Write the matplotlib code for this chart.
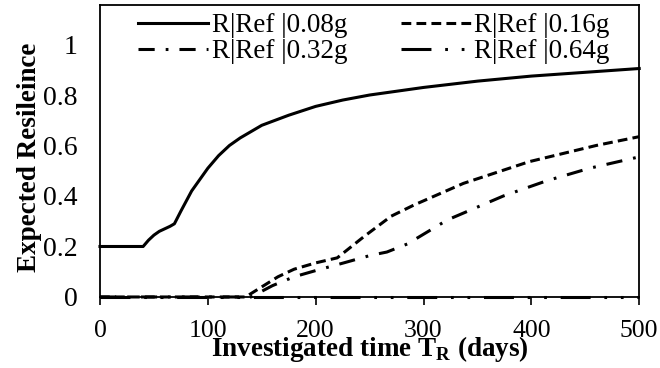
import matplotlib
matplotlib.use("Agg")
import matplotlib.pyplot as plt

plt.rcParams['font.family'] = ['Liberation Serif', 'DejaVu Serif']
plt.rcParams['mathtext.fontset'] = 'custom'
plt.rcParams['mathtext.rm'] = 'Liberation Serif'
plt.rcParams['mathtext.bf'] = 'Liberation Serif:bold'

labels = ["R|Ref |0.08g", "R|Ref |0.16g", "R|Ref |0.32g", "R|Ref |0.64g"]

t_008 = [0, 40, 45, 50, 55, 60, 65, 69, 75, 80, 85, 90, 100, 110, 120, 130, 150, 175, 200, 225, 250, 300, 350, 400, 450, 500]
r_008 = [0.2, 0.2, 0.225, 0.245, 0.26, 0.27, 0.28, 0.29, 0.34, 0.38, 0.42, 0.45, 0.51, 0.56, 0.6, 0.63, 0.68, 0.72, 0.755, 0.78, 0.8, 0.83, 0.855, 0.875, 0.89, 0.905]

t_016 = [0, 135, 150, 165, 180, 200, 220, 245, 270, 291, 337, 398, 460, 500]
r_016 = [0, 0, 0.04, 0.08, 0.11, 0.135, 0.155, 0.24, 0.32, 0.364, 0.45, 0.536, 0.60, 0.635]

t_032 = [0, 140, 160, 180, 202, 226, 251, 266, 285, 322, 374, 414, 454, 500]
r_032 = [0, 0, 0.045, 0.08, 0.107, 0.135, 0.165, 0.178, 0.21, 0.305, 0.40, 0.46, 0.51, 0.555]

t_064 = [0, 500]
r_064 = [0, 0]

fs = 19.5
W, H = 660, 368
fig = plt.figure(figsize=(6.6, 3.68), dpi=100)
ax = fig.add_axes([0.1515, 0.193, 0.817, 0.793])

lw = 2.2
h1, = ax.plot(t_008, r_008, color='black', lw=lw, linestyle='-', clip_on=False)
h2, = ax.plot(t_016, r_016, color='black', lw=lw, linestyle=(0, (3.2, 1.7)), clip_on=False)
h3, = ax.plot(t_032, r_032, color='black', lw=lw, linestyle=(0, (5.3, 3.6, 0.9, 3.6)), clip_on=False)
h4, = ax.plot(t_064, r_064, color='black', lw=lw, linestyle=(0, (9.8, 4.5, 0.9, 4.5, 0.9, 4.5)), clip_on=False)

ax.set_xlim(0, 500)
ax.set_ylim(0, 1.156)
ax.set_xticks([0, 100, 200, 300, 400, 500])
ax.set_yticks([0, 0.2, 0.4, 0.6, 0.8, 1.0])
ax.set_yticklabels(['0', '0.2', '0.4', '0.6', '0.8', '1'])
ax.tick_params(axis='x', direction='out', length=5.5, width=1.2, labelsize=18.5, pad=10.9)
ax.tick_params(axis='y', length=0, labelsize=20, pad=16)
for s in ax.spines.values():
    s.set_linewidth(1.3)

ax.set_xlabel(r"Investigated time T$_{\mathbf{R}}$ (days)", fontsize=fs, fontweight='bold', labelpad=-5.4)
ax.set_ylabel("Expected Resileince", fontsize=fs, fontweight='bold', labelpad=0.7)
ax.yaxis.label.set_y(0.478)

fig.legend([h1, h3, h2, h4], [labels[0], labels[2], labels[1], labels[3]],
           ncol=2, loc='upper left', frameon=False, fontsize=fs,
           handlelength=2.6, handletextpad=0.12, columnspacing=1.97, labelspacing=0.05,
           borderpad=0, borderaxespad=0,
           bbox_to_anchor=(138 / W, 1 - 13 / H), bbox_transform=fig.transFigure)

fig.savefig("out.png", dpi=100)
